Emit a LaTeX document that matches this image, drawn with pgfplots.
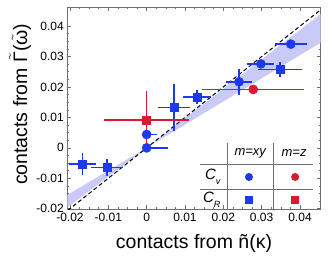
\documentclass[border=0pt]{standalone}
\usepackage{fontspec}
\setmainfont{Liberation Sans}
\usepackage{pgfplots}
\pgfplotsset{compat=1.18}
\definecolor{mblue}{RGB}{30,55,240}
\definecolor{mred}{RGB}{220,25,50}
\definecolor{mband}{RGB}{202,202,246}
\definecolor{frame}{RGB}{110,110,110}
\begin{document}
\begin{tikzpicture}
\begin{axis}[
  scale only axis, width=253.4pt, height=202pt,
  xmin=-0.0207, xmax=0.0454, ymin=-0.0202, ymax=0.0462,
  axis line style={frame, line width=0.8pt},
  xtick={-0.02,-0.01,0,0.01,0.02,0.03,0.04},
  ytick={-0.02,-0.01,0,0.01,0.02,0.03,0.04},
  minor tick num=3,
  tick align=inside, tick style={frame, line width=0.6pt},
  major tick length=4pt, minor tick length=2.2pt,
  scaled ticks=false,
  /pgf/number format/.cd, fixed, precision=2, assume math mode=true,
  /pgfplots/.cd,
  ticklabel style={font=\fontsize{12}{14}\selectfont, text=black},
  xlabel={contacts from ñ(κ)},
  ylabel={contacts from $\tilde{\hbox{Γ}}$($\tilde{\hbox{ω}}$)},
  label style={font=\fontsize{19.5}{22}\selectfont},
  xlabel style={at={(axis description cs:0.5,-0.1916)}, anchor=base},
  ylabel style={at={(axis description cs:-0.159,0.52)}, anchor=base},
  clip=true,
  error bars/error mark=none,
]
% band (fit with confidence range)
\addplot[draw=none, fill=mband] coordinates {(-0.0207,-0.0155) (0,0) (0.0454,0.0346) (0.0454,0.0440) (0,0) (-0.0207,-0.0196)} -- cycle;
% diagonal
\addplot[black, line width=1pt, dash pattern=on 4pt off 2.6pt] coordinates {(-0.03,-0.03) (0.05,0.05)};
% blue squares (C_R, m=xy)
\addplot[only marks, mark=square*, mark size=4pt, color=mblue,
  error bars/.cd, x dir=both, x explicit, y dir=both, y explicit,
  error bar style={draw=mblue, solid, line width=1.6pt}]
  coordinates {
  (-0.0167,-0.0053) +- (0.0035,0.0036)
  (-0.0104,-0.0065) +- (0.0042,0.0027)
  (0.0071,0.0132) +- (0.0042,0.0077)
  (0.0132,0.0168) +- (0.0037,0.0023)
  (0.0348,0.0257) +- (0.0058,0.0024)
  };
% red square (C_R, m=z)
\addplot[only marks, mark=square*, mark size=4pt, color=mred,
  error bars/.cd, x dir=both, x explicit, y dir=both, y explicit,
  error bar style={draw=mred, solid, line width=1.6pt}]
  coordinates {
  (0,0.0091) +- (0.0110,0.0095)
  };
% red circle (C_v, m=z)
\addplot[only marks, mark=*, mark size=4.6pt, color=mred,
  error bars/.cd, x dir=both, x explicit, y dir=both, y explicit,
  error bar style={draw=mred, solid, line width=1.6pt}]
  coordinates {
  (0.0278,0.0192) +- (0.0133,0.0010)
  };
% blue circles (C_v, m=xy)
\addplot[only marks, mark=*, mark size=4.6pt, color=mblue,
  error bars/.cd, x dir=plus, x explicit, y dir=both, y explicit,
  error bar style={draw=mblue, solid, line width=1.6pt}]
  coordinates {
  (0,0.0044) +- (0.0026,0.0003)
  (0,0) +- (0.0056,0.0003)
  };
\addplot[only marks, mark=*, mark size=4.6pt, color=mblue,
  error bars/.cd, x dir=both, x explicit, y dir=both, y explicit,
  error bar style={draw=mblue, solid, line width=1.6pt}]
  coordinates {
  (0.0241,0.0217) +- (0.0033,0.0043)
  (0.0298,0.0276) +- (0.0035,0.0010)
  (0.0376,0.0341) +- (0.0042,0.0008)
  };
% legend table
\draw[frame, line width=0.8pt] (rel axis cs:0.631,0) -- (rel axis cs:0.631,0.328);
\draw[frame, line width=0.8pt] (rel axis cs:0.813,0) -- (rel axis cs:0.813,0.328);
\draw[frame, line width=0.8pt] (rel axis cs:0.524,0.224) -- (rel axis cs:0.970,0.224);
\draw[frame, line width=0.8pt] (rel axis cs:0.524,0.100) -- (rel axis cs:0.970,0.100);
\node[font=\fontsize{13}{15}\selectfont\itshape] at (rel axis cs:0.722,0.279) {m=xy};
\node[font=\fontsize{13}{15}\selectfont\itshape] at (rel axis cs:0.895,0.279) {m=z};
\node[font=\fontsize{15}{17}\selectfont\itshape, anchor=east] at (rel axis cs:0.618,0.160) {C\raisebox{-0.35em}{\fontsize{9}{10}\selectfont v}};
\node[font=\fontsize{15}{17}\selectfont\itshape, anchor=east] at (rel axis cs:0.618,0.046) {C\raisebox{-0.35em}{\fontsize{9}{10}\selectfont R}};
\node[circle, fill=mblue, inner sep=0pt, minimum size=8pt] at (rel axis cs:0.717,0.160) {};
\node[circle, fill=mred, inner sep=0pt, minimum size=8pt] at (rel axis cs:0.899,0.160) {};
\node[rectangle, fill=mblue, inner sep=0pt, minimum size=7.5pt] at (rel axis cs:0.717,0.046) {};
\node[rectangle, fill=mred, inner sep=0pt, minimum size=7.5pt] at (rel axis cs:0.899,0.046) {};
\end{axis}
\pgfresetboundingbox
\path[use as bounding box] ([shift={(-67.3pt,-46.7pt)}]current axis.south west) rectangle ([shift={(11.3pt,7.3pt)}]current axis.north east);
\end{tikzpicture}
\end{document}
